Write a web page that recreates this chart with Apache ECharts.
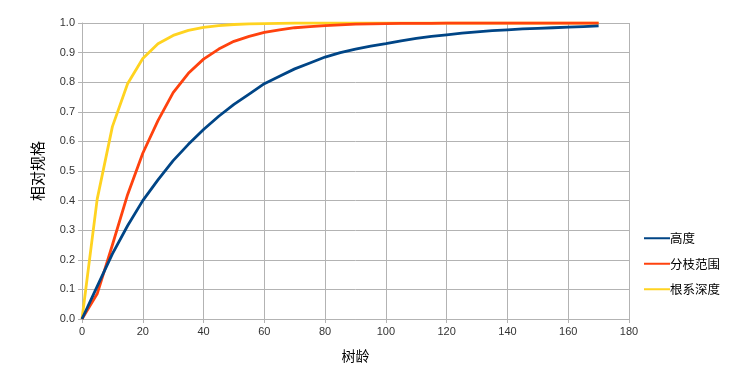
<!DOCTYPE html>
<html>
<head>
<meta charset="utf-8">
<script src="https://cdn.jsdelivr.net/npm/echarts@6/dist/echarts.min.js"></script>
<style>
html,body{margin:0;padding:0;background:#fff;}
#chart{width:756px;height:383px;}
</style>
</head>
<body>
<div id="chart"></div>
<script>
// Tree age (x values)
var ages = [0,5,10,15,20,25,30,35,40,45,50,55,60,65,70,75,80,85,90,95,100,105,110,115,120,125,130,135,140,145,150,155,160,165,170];
// 高度
var heightVals = [0,0.11,0.22,0.315,0.40,0.47,0.535,0.59,0.64,0.685,0.725,0.76,0.795,0.82,0.845,0.865,0.885,0.90,0.912,0.922,0.93,0.94,0.948,0.955,0.96,0.966,0.97,0.974,0.977,0.98,0.982,0.984,0.986,0.988,0.99];
// 分枝范围
var branchVals = [0,0.085,0.25,0.42,0.56,0.67,0.765,0.83,0.878,0.912,0.938,0.955,0.968,0.977,0.984,0.988,0.991,0.994,0.996,0.997,0.998,0.999,0.999,0.999,1,1,1,1,1,1,1,1,1,1,1];
// 根系深度
var rootVals = [0,0.405,0.65,0.795,0.88,0.93,0.958,0.975,0.985,0.991,0.995,0.997,0.998,0.999,1,1,1,1,1,1,1,1,1,1,1,1,1,1,1,1,1,1,1,1,1];
var seriesNames = ['高度','分枝范围','根系深度'];
var colors = ['#004586','#ff420e','#ffd320'];

function pairs(v){ return ages.map(function(a,i){ return [a, v[i]]; }); }

var font = '"Liberation Sans", Arial, "Noto Sans CJK SC", sans-serif';
var cjk = '"Noto Sans CJK SC", sans-serif';
var chart = echarts.init(document.getElementById('chart'), null, {renderer:'canvas'});
var allVals = [heightVals, branchVals, rootVals];
var zs = [4,3,2];
chart.setOption({
  animation:false,
  backgroundColor:'#fff',
  textStyle:{fontFamily:font},
  grid:{left:82,right:127,top:23,bottom:64,containLabel:false},
  legend:{
    orient:'vertical', left:639, top:227,
    data:seriesNames,
    itemWidth:26, itemHeight:14, itemGap:13,
    icon:'path://M0,6L26,6L26,8L0,8Z',
    textStyle:{fontSize:12.5,color:'#000',fontFamily:cjk, padding:[0,0,0,-5]}
  },
  xAxis:{
    type:'value', min:0, max:180, interval:20,
    name:'树龄', nameLocation:'middle', nameGap:30,
    nameTextStyle:{fontSize:14,color:'#000',fontFamily:cjk},
    axisLine:{show:true,onZero:false,lineStyle:{color:'#b3b3b3',width:1}},
    axisTick:{show:true,length:4,lineStyle:{color:'#b3b3b3'}},
    axisLabel:{fontSize:11,color:'#333',margin:7,fontFamily:font},
    splitLine:{show:true,lineStyle:{color:'#b3b3b3',width:1}}
  },
  yAxis:{
    type:'value', min:0, max:1, interval:0.1,
    name:'相对规格', nameLocation:'middle', nameGap:37, nameRotate:90,
    nameTextStyle:{fontSize:15,color:'#000',fontFamily:cjk},
    axisLine:{show:true,lineStyle:{color:'#b3b3b3',width:1}},
    axisTick:{show:true,length:4,lineStyle:{color:'#b3b3b3'}},
    axisLabel:{fontSize:11,color:'#333',margin:7,fontFamily:font,
      formatter:function(v){return v.toFixed(1);}},
    splitLine:{show:true,lineStyle:{color:'#b3b3b3',width:1}}
  },
  series: seriesNames.map(function(n,i){
    return {
      name:n, type:'line', data:pairs(allVals[i]),
      showSymbol:false, symbol:'none', smooth:false, z:zs[i],
      color:colors[i],
      lineStyle:{color:colors[i], width:2.8, join:'round'}
    };
  })
});
</script>
</body>
</html>
